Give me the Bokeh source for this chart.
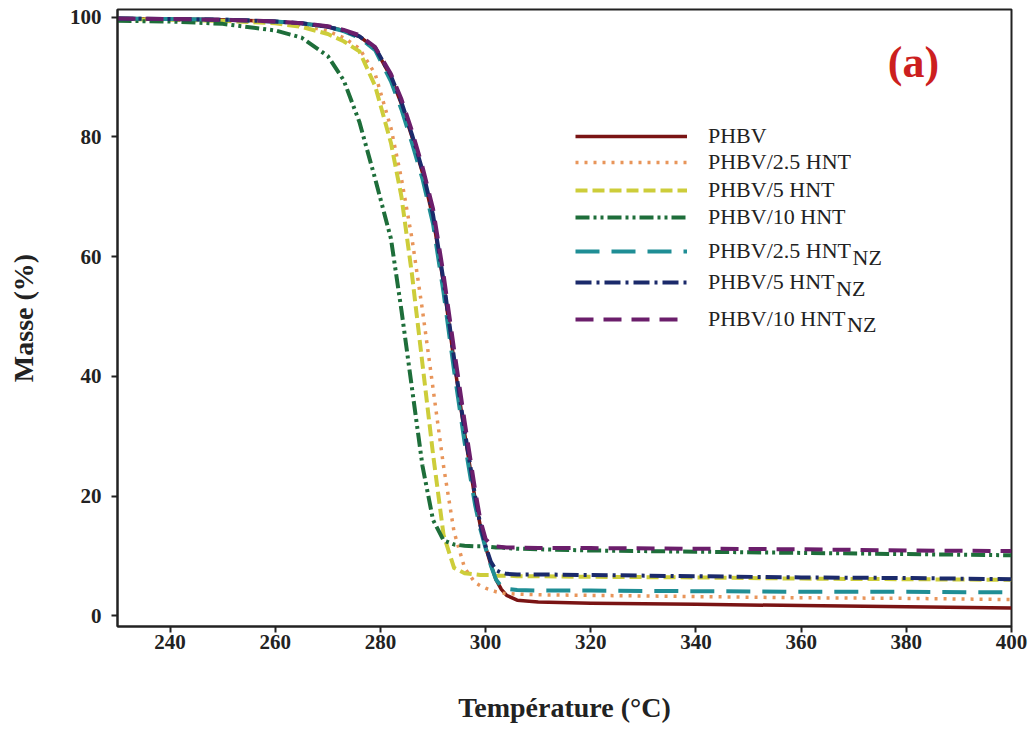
from bokeh.plotting import figure
from bokeh.models import Legend, LegendItem, Label, Range1d, FixedTicker
from bokeh.embed import file_html
from bokeh.resources import INLINE

# ---------------- data ----------------
temperature = [230, 240, 250, 260, 265, 270, 273, 276, 279, 282, 284, 286, 288, 290,
               292, 294, 296, 298, 299, 300, 301, 302, 303, 304, 306, 310, 320, 340,
               360, 380, 400]

phbv = [99.8, 99.7, 99.6, 99.3, 99.0, 98.4, 97.8, 96.8, 94.8, 90.0, 85.5, 80.0, 74.0, 66.5,
        55.5, 42.5, 30.5, 19.5, 15.0, 11.5, 8.5, 6.0, 4.4, 3.4, 2.6, 2.3, 2.1, 1.9,
        1.7, 1.5, 1.3]
phbv_25hnt = [99.8, 99.7, 99.6, 99.2, 98.7, 97.7, 96.6, 94.8, 90.5, 81.5, 73.0, 63.0, 51.0, 38.0,
              25.0, 14.0, 8.0, 5.5, 5.0, 4.6, 4.3, 4.0, 3.8, 3.7, 3.6, 3.5, 3.4, 3.2,
              3.0, 2.9, 2.7]
phbv_5hnt = [99.7, 99.6, 99.4, 99.0, 98.4, 97.2, 96.0, 94.3, 88.5, 79.0, 70.0, 57.0, 42.0, 27.0,
             13.5, 8.0, 7.1, 6.9, 6.8, 6.8, 6.8, 6.7, 6.7, 6.7, 6.6, 6.6, 6.5, 6.4,
             6.2, 6.1, 6.0]
phbv_10hnt = [99.4, 99.3, 98.9, 97.8, 96.6, 93.5, 89.5, 82.5, 73.0, 63.0, 51.0, 38.0, 25.0, 16.0,
              12.6, 11.9, 11.7, 11.6, 11.6, 11.5, 11.5, 11.4, 11.4, 11.3, 11.2, 11.1, 10.9, 10.7,
              10.5, 10.3, 10.1]
phbv_25nz = [99.8, 99.7, 99.6, 99.3, 99.0, 98.4, 97.7, 96.6, 94.5, 89.3, 84.6, 79.0, 73.0, 65.5,
             54.0, 41.0, 29.0, 18.5, 14.5, 11.3, 8.4, 6.0, 4.9, 4.5, 4.3, 4.2, 4.2, 4.1,
             4.0, 4.0, 3.9]
phbv_5nz = [99.8, 99.7, 99.6, 99.3, 99.0, 98.4, 97.8, 96.8, 94.9, 90.2, 85.8, 80.4, 74.4, 67.0,
            56.0, 43.0, 31.0, 20.0, 15.2, 11.6, 9.0, 7.6, 7.2, 7.0, 6.9, 6.9, 6.8, 6.6,
            6.4, 6.3, 6.1]
phbv_10nz = [99.8, 99.7, 99.6, 99.3, 99.0, 98.5, 97.9, 97.0, 95.0, 90.5, 86.3, 81.0, 75.0, 68.0,
             57.0, 44.5, 32.5, 21.0, 16.0, 12.8, 11.9, 11.6, 11.5, 11.4, 11.4, 11.3, 11.3, 11.2,
             11.1, 10.9, 10.8]

series_labels = ["PHBV", "PHBV/2.5 HNT", "PHBV/5 HNT", "PHBV/10 HNT",
                 "PHBV/2.5 HNT", "PHBV/5 HNT", "PHBV/10 HNT"]
subscripts = ["", "", "", "", "NZ", "NZ", "NZ"]
x_ticks = [240, 260, 280, 300, 320, 340, 360, 380, 400]
y_ticks = [0, 20, 40, 60, 80, 100]

series = [phbv, phbv_25hnt, phbv_5hnt, phbv_10hnt, phbv_25nz, phbv_5nz, phbv_10nz]
colors = ["#7A1414", "#E8955A", "#CDCD3A", "#1E6E3A", "#1F8E95", "#1B2A6B", "#6B1E6B"]
dashes = ["solid", "3 6", "12 5", "14 4 3 4 3 4", "24 12", "16 5 3 5", "18 10"]
widths = [3.5, 3.5, 4, 4, 4, 4, 4]

# ---------------- figure ----------------
X0, X1 = 230, 400
Y0, Y1 = -1.8, 101.3
W, H = 1030, 725
FL, FR, FT, FB = 117, 1011, 9, 631   # frame edges in page pixels
p = figure(width=W, height=H, output_backend="svg", toolbar_location=None,
           x_range=Range1d(X0, X1), y_range=Range1d(Y0, Y1),
           min_border_left=FL, min_border_right=W - FR, min_border_top=FT,
           min_border_bottom=H - FB)
p.background_fill_color = "white"
p.border_fill_color = "white"
p.outline_line_color = "#222222"
p.outline_line_width = 2
p.xgrid.visible = False
p.ygrid.visible = False

for ax in (p.xaxis[0], p.yaxis[0]):
    ax.axis_line_color = "#222222"
    ax.axis_line_width = 2
    ax.major_tick_line_color = "#222222"
    ax.major_tick_line_width = 2
    ax.major_tick_out = 6
    ax.major_tick_in = 0
    ax.minor_tick_line_color = None
    ax.major_label_text_font = "Liberation Serif"
    ax.major_label_text_font_style = "bold"
    ax.major_label_text_font_size = "21px"
    ax.major_label_text_color = "#222222"
    ax.axis_label_text_font = "Liberation Serif"
    ax.axis_label_text_font_style = "bold"
    ax.axis_label_text_font_size = "28px"
    ax.axis_label_text_color = "#222222"

p.xaxis.ticker = FixedTicker(ticks=x_ticks)
p.yaxis.ticker = FixedTicker(ticks=y_ticks)
p.xaxis.axis_label = "Température (°C)"
p.yaxis.axis_label = "Masse (%)"
p.xaxis.major_label_standoff = 2
p.xaxis.axis_label_standoff = 40
p.yaxis.major_label_standoff = 10
p.yaxis.axis_label_standoff = 28

renderers = []
for ys, c, d, w in zip(series, colors, dashes, widths):
    r = p.line(temperature, ys, line_color=c, line_width=w, line_dash=d,
               line_join="round")
    renderers.append(r)

# ---------------- helpers: page pixel -> data ----------------
def px_x(px):
    return X0 + (px - FL) * (X1 - X0) / (FR - FL)
def px_y(py):
    return Y1 - (py - FT) * (Y1 - Y0) / (FB - FT)

# ---------------- legend (one per row) ----------------
row_y = [137, 163, 191, 218, 252, 283, 320]
FONT_PX = 22
for r, lab, sub, yc in zip(renderers, series_labels, subscripts, row_y):
    leg = Legend(items=[LegendItem(label=lab, renderers=[r])],
                 location=(575 - FL, FB - (yc + 10) - 7),
                 glyph_width=112, glyph_height=20, label_height=20,
                 label_standoff=21, padding=0, margin=0, spacing=0,
                 border_line_color=None, background_fill_alpha=0,
                 label_text_font="Liberation Serif",
                 label_text_font_size=f"{FONT_PX}px",
                 label_text_color="#222222")
    p.add_layout(leg, "center")

# subscript "NZ" after the label text (Times metrics)
em = {"PHBV/2.5 HNT": 6.5, "PHBV/5 HNT": 5.75, "PHBV/10 HNT": 6.25}
for lab, sub, yc in zip(series_labels, subscripts, row_y):
    if not sub:
        continue
    x_end = 708 + em[lab] * FONT_PX + 1
    p.add_layout(Label(x=px_x(x_end), y=px_y(yc + 7), text=sub,
                       text_font="Liberation Serif", text_font_size=f"{FONT_PX}px",
                       text_color="#222222", text_baseline="middle",
                       text_align="left"))

# panel tag
p.add_layout(Label(x=px_x(913), y=px_y(62), text="(a)",
                   text_font="Liberation Serif", text_font_style="bold",
                   text_font_size="44px", text_color="#CC1F1F",
                   text_align="center", text_baseline="middle"))

open("out.html", "w").write(file_html(p, INLINE))
